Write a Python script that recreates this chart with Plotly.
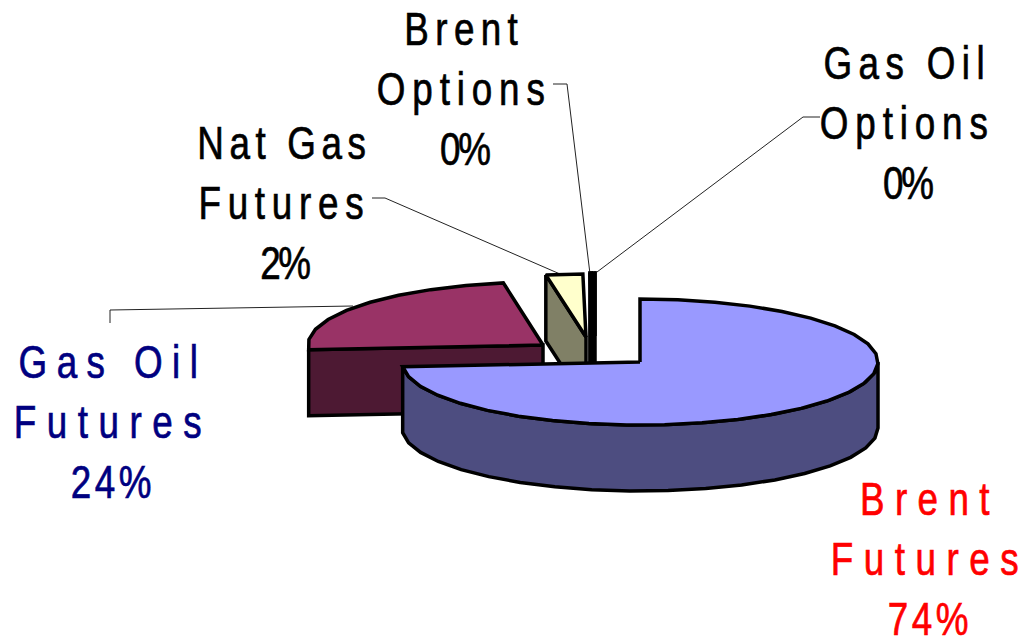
import json
import numpy as np
import plotly.graph_objects as go

# --- data ---
categories = ["Brent Futures", "Gas Oil Futures", "Nat Gas Futures", "Brent Options", "Gas Oil Options"]
shares = [73.8, 23.5, 2.49, 0.105, 0.105]
label_lines = ["Brent<br>Futures<br>74%", "Gas Oil<br>Futures<br>24%", "Nat Gas<br>Futures<br>2%",
               "Brent<br>Options<br>0%", "Gas Oil<br>Options<br>0%"]

# --- style ---
top_colors = ["#9999FF", "#993366", "#FFFFCC", "#000000", "#000000"]
side_colors = ["#4D4D80", "#4D1933", "#808066", "#000000", "#000000"]
label_colors = ["#FF0000", "#000080", "#000000", "#000000", "#000000"]
label_x = [930, 113, 284, 464, 907]
label_y = [559, 422, 203, 89, 123]
line_spacing = [[13.0, 13.2, 4.4], [11.8, 13.2, 4.4], [7.0, 8.4, -3.0], [8.0, 8.6, -3.0], [8.0, 8.6, -3.0]]
apex_x = [640, 543, 586, 593, 595]
apex_y = [362, 345, 337, 336, 336]
radius_x = [238, 235, 238, 238, 238]
RY, DEPTH = 63, 66
FONT = "Liberation Sans, Arial, sans-serif"
TEXT_SQUEEZE = 0.8
TEXT_WEIGHT = 0.7
OUT = "#000000"
LW = 3.5

leaders = [
    ([110, 110, 353], [323, 310, 306]),
    ([372, 385, 560], [198, 198, 274]),
    ([553, 567, 590], [84, 84, 274]),
    ([820, 803, 597], [117, 117, 272]),
]

fractions = np.array(shares) / sum(shares)
ends = np.cumsum(fractions) * 2 * np.pi
starts = ends - fractions * 2 * np.pi


def arc(i, a, b, step=9):
    n = max(2, int(abs(b - a) / np.radians(step)) + 1)
    t = np.linspace(a, b, n)
    return apex_x[i] + radius_x[i] * np.sin(t), apex_y[i] - RY * np.cos(t)


def poly(xs, ys, fill):
    return go.Scatter(x=list(xs), y=list(ys), mode="lines", fill="toself", fillcolor=fill,
                      line=dict(color=OUT, width=LW, simplify=False), hoverinfo="skip", showlegend=False)


fig = go.Figure()

for xs, ys in leaders:
    fig.add_trace(go.Scatter(x=xs, y=ys, mode="lines", line=dict(color="#222222", width=1),
                             hoverinfo="skip", showlegend=False))

# slices back to front: gas oil, nat gas, options, brent
for i in [1, 2, 3, 4]:
    ax, ay = apex_x[i], apex_y[i]
    x_s, y_s = arc(i, starts[i], starts[i])
    x_e, y_e = arc(i, ends[i], ends[i])
    if i in (1, 2):
        fig.add_trace(poly([x_s[0], ax, ax, x_s[0], x_s[0]],
                           [y_s[0], ay, ay + DEPTH, y_s[0] + DEPTH, y_s[0]], side_colors[i]))
    else:
        fig.add_trace(poly([x_s[0], x_e[0], x_e[0], x_s[0], x_s[0]],
                           [y_s[0], y_e[0], ay + DEPTH, ay + DEPTH, y_s[0]], side_colors[i]))
    xa, ya = arc(i, starts[i], ends[i])
    fig.add_trace(poly([ax, *xa, ax], [ay, *ya, ay], top_colors[i]))

# brent: outer wall then top
i = 0
xa, ya = arc(i, np.pi / 2, ends[i])
fig.add_trace(poly([*xa, *xa[::-1], xa[0]], [*ya, *(ya[::-1] + DEPTH), ya[0]], side_colors[i]))
xa, ya = arc(i, starts[i], ends[i])
fig.add_trace(poly([apex_x[i], *xa, apex_x[i]], [apex_y[i], *ya, apex_y[i]], top_colors[i]))

for name, txt, x, y, c in zip(categories, label_lines, label_x, label_y, label_colors):
    fig.add_annotation(x=x, y=y, xref="x", yref="y", text=txt, showarrow=False, align="center",
                       xanchor="center", yanchor="middle", font=dict(family=FONT, size=46, color=c))

fig.update_layout(width=1027, height=636, margin=dict(l=0, r=0, t=0, b=0),
                  paper_bgcolor="white", plot_bgcolor="white", showlegend=False,
                  xaxis=dict(range=[0, 1027], visible=False, fixedrange=True),
                  yaxis=dict(range=[636, 0], visible=False, fixedrange=True))

post = """
document.body.style.margin='0';
var sp = %s, sq = %s, colors = %s, w = %s;
document.querySelectorAll('.annotation-text').forEach(function(t, k){
  t.querySelectorAll('tspan.line').forEach(function(l, j){
    l.style.letterSpacing = sp[k][j] + 'px';
  });
  t.style.stroke = colors[k];
  t.style.strokeWidth = w + 'px';
  var b = t.getBBox(), cx = b.x + b.width / 2;
  t.setAttribute('transform', 'translate(' + cx + ',0) scale(' + sq + ',1) translate(' + (-cx) + ',0)');
});
""" % (json.dumps(line_spacing), TEXT_SQUEEZE, json.dumps(label_colors), TEXT_WEIGHT)
fig.write_html("out.html", post_script=post, config={"displayModeBar": False})
